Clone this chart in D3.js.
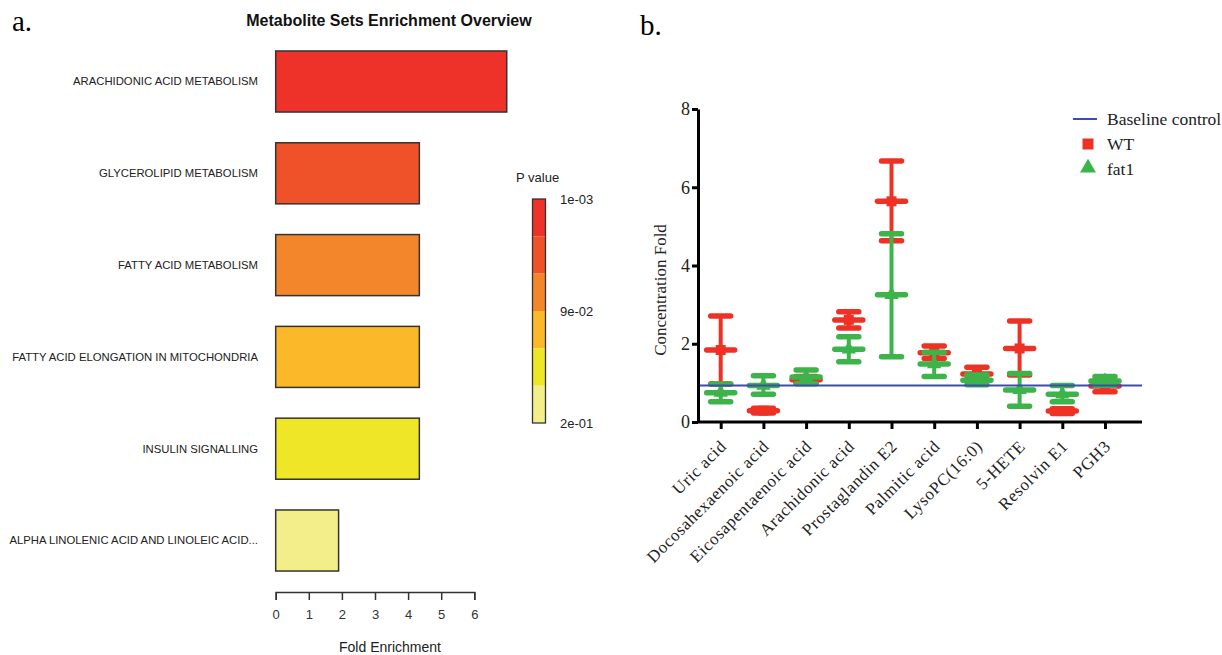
<!DOCTYPE html>
<html>
<head>
<meta charset="utf-8">
<script src="https://cdn.jsdelivr.net/npm/d3@7"></script>
<style>
    body { margin: 0; background: #fff; }
    svg { display: block; }
</style>
</head>
<body>
<svg></svg>
<script>
const width = 1222;
const height = 655;

// panel a: metabolite set enrichment
const setNames = [
    "ARACHIDONIC ACID METABOLISM",
    "GLYCEROLIPID METABOLISM",
    "FATTY ACID METABOLISM",
    "FATTY ACID ELONGATION IN MITOCHONDRIA",
    "INSULIN SIGNALLING",
    "ALPHA LINOLENIC ACID AND LINOLEIC ACID..."
];
const foldEnrichment = [6.98, 4.34, 4.34, 4.34, 4.34, 1.90];
const pValues = [0.001, 0.045, 0.075, 0.105, 0.135, 0.18];
const pColors = ["#ee3129", "#ef5229", "#f3862b", "#fbb829", "#eee626", "#f3ee89"];
const pTickValues = [0.001, 0.0905, 0.18];
const pTickLabels = ["1e-03", "9e-02", "2e-01"];
const foldTicks = [0, 1, 2, 3, 4, 5, 6];

// panel b: concentration fold, mean with error range
const metabolites = ["Uric acid", "Docosahexaenoic acid", "Eicosapentaenoic acid", "Arachidonic acid",
    "Prostaglandin E2", "Palmitic acid", "LysoPC(16:0)", "5-HETE", "Resolvin E1", "PGH3"];
const wtMean = [1.84, 0.29, 1.08, 2.61, 5.64, 1.77, 1.23, 1.88, 0.28, 0.92];
const wtLow = [0.97, 0.23, 1.00, 2.40, 4.63, 1.62, 1.09, 1.20, 0.22, 0.77];
const wtHigh = [2.71, 0.35, 1.16, 2.82, 6.67, 1.94, 1.40, 2.58, 0.34, 1.05];
const fat1Mean = [0.75, 0.93, 1.15, 1.86, 3.25, 1.48, 1.07, 0.82, 0.71, 1.05];
const fat1Low = [0.52, 0.71, 0.98, 1.54, 1.67, 1.16, 0.95, 0.40, 0.52, 0.94];
const fat1High = [0.97, 1.18, 1.33, 2.18, 4.81, 1.78, 1.20, 1.24, 0.93, 1.16];
const baselineValue = 0.93;
const concTicks = [0, 2, 4, 6, 8];

const sans = "'Liberation Sans', Arial, sans-serif";
const serif = "'Liberation Serif', 'Times New Roman', serif";

let svg = d3.select("svg").attr("width", width).attr("height", height);
svg.append("rect").attr("width", width).attr("height", height).attr("fill", "#fff");

// ---------- panel a ----------
function drawPanelA() {
    let g = svg.append("g");
    g.append("text").attr("x", 12).attr("y", 31).text("a.")
        .style("font-family", serif).style("font-size", "29px");
    g.append("text").attr("x", 389).attr("y", 26).attr("text-anchor", "middle")
        .text("Metabolite Sets Enrichment Overview")
        .style("font-family", sans).style("font-size", "16px").style("font-weight", "bold").attr("fill", "#111");

    let scX = d3.scaleLinear().domain([0, 6]).range([275.7, 474.3]);
    let scY = d3.scaleBand().domain(setNames).range([35.6, 586.4])
        .paddingInner(0.335).paddingOuter(0.1675);
    let colorScale = d3.scaleQuantize().domain([0.001, 0.18]).range(pColors);

    let rows = setNames.map((name, i) => ({ name: name, fold: foldEnrichment[i], p: pValues[i] }));

    g.selectAll(".bar")
        .data(rows)
        .enter()
        .append("rect")
        .attr("class", "bar")
        .attr("x", scX(0))
        .attr("y", d => scY(d.name))
        .attr("width", d => scX(d.fold) - scX(0))
        .attr("height", scY.bandwidth())
        .attr("fill", d => colorScale(d.p))
        .attr("stroke", "#333")
        .attr("stroke-width", 1.5);

    g.selectAll(".setLabel")
        .data(rows)
        .enter()
        .append("text")
        .attr("class", "setLabel")
        .attr("x", 258)
        .attr("y", d => scY(d.name) + scY.bandwidth() / 2)
        .attr("dy", "0.35em")
        .attr("text-anchor", "end")
        .text(d => d.name)
        .style("font-family", sans).style("font-size", "11.3px").attr("fill", "#222");

    let axisX = d3.axisBottom(scX).tickValues(foldTicks).tickSize(8).tickSizeOuter(8).tickPadding(10)
        .tickFormat(d3.format("d"));
    let ax = g.append("g").attr("transform", "translate(0, 592)").call(axisX);
    ax.selectAll("path, line").attr("stroke", "#333").attr("stroke-width", 1.5);
    ax.selectAll("text").style("font-family", sans).style("font-size", "13px").attr("fill", "#333");

    g.append("text").attr("x", 390).attr("y", 652).attr("text-anchor", "middle")
        .text("Fold Enrichment")
        .style("font-family", sans).style("font-size", "14px").attr("fill", "#222");

    // P value colour bar
    let scP = d3.scaleLinear().domain([0.001, 0.18]).range([199, 423]);
    let bounds = [0.001].concat(colorScale.thresholds(), [0.18]);
    let segs = pColors.map((c, i) => ({ c: c, a: bounds[i], b: bounds[i + 1] }));
    g.selectAll(".seg")
        .data(segs)
        .enter()
        .append("rect")
        .attr("class", "seg")
        .attr("x", 532.5)
        .attr("y", d => scP(d.a))
        .attr("width", 13)
        .attr("height", d => scP(d.b) - scP(d.a))
        .attr("fill", d => d.c);
    g.append("rect").attr("x", 532.5).attr("y", scP(0.001)).attr("width", 13)
        .attr("height", scP(0.18) - scP(0.001))
        .attr("fill", "none").attr("stroke", "#333").attr("stroke-width", 1.3);
    g.selectAll(".pTick")
        .data(pTickValues)
        .enter()
        .append("text")
        .attr("class", "pTick")
        .attr("x", 560)
        .attr("y", d => scP(d))
        .attr("dy", "0.35em")
        .text((d, i) => pTickLabels[i])
        .style("font-family", sans).style("font-size", "13px").attr("fill", "#222");
    g.append("text").attr("x", 516).attr("y", 182).text("P value")
        .style("font-family", sans).style("font-size", "13px").attr("fill", "#222");
}

// ---------- panel b ----------
function drawSeries(g, rows, scX, scY, color, symbolType, symbolSize) {
    let grp = g.append("g");
    grp.selectAll(".err")
        .data(rows)
        .enter()
        .append("line")
        .attr("x1", d => scX(d.name)).attr("x2", d => scX(d.name))
        .attr("y1", d => scY(d.low)).attr("y2", d => scY(d.high))
        .attr("stroke", color).attr("stroke-width", 4);
    ["low", "high"].forEach(key => {
        grp.selectAll(".cap-" + key)
            .data(rows)
            .enter()
            .append("line")
            .attr("x1", d => scX(d.name) - 10).attr("x2", d => scX(d.name) + 10)
            .attr("y1", d => scY(d[key])).attr("y2", d => scY(d[key]))
            .attr("stroke", color).attr("stroke-width", 5.5).attr("stroke-linecap", "round");
    });
    grp.selectAll(".mean")
        .data(rows)
        .enter()
        .append("line")
        .attr("x1", d => scX(d.name) - 14).attr("x2", d => scX(d.name) + 14)
        .attr("y1", d => scY(d.mean)).attr("y2", d => scY(d.mean))
        .attr("stroke", color).attr("stroke-width", 5.5).attr("stroke-linecap", "round");
    grp.selectAll(".mark")
        .data(rows)
        .enter()
        .append("path")
        .attr("d", d3.symbol(symbolType, symbolSize))
        .attr("transform", d => `translate(${scX(d.name)}, ${scY(d.mean)})`)
        .attr("fill", color);
}

function drawPanelB() {
    let g = svg.append("g");
    g.append("text").attr("x", 640).attr("y", 35).text("b.")
        .style("font-family", serif).style("font-size", "29px");

    let scX = d3.scalePoint().domain(metabolites).range([720.7, 1105]);
    let scY = d3.scaleLinear().domain([0, 8]).range([422, 109]);

    let wtRows = metabolites.map((m, i) => ({ name: m, mean: wtMean[i], low: wtLow[i], high: wtHigh[i] }));
    let fatRows = metabolites.map((m, i) => ({ name: m, mean: fat1Mean[i], low: fat1Low[i], high: fat1High[i] }));

    drawSeries(g, wtRows, scX, scY, "#ee3124", d3.symbolSquare, 100);
    drawSeries(g, fatRows, scX, scY, "#3cb44a", d3.symbolTriangle, 90);

    g.append("line")
        .attr("x1", 698).attr("x2", 1142)
        .attr("y1", scY(baselineValue)).attr("y2", scY(baselineValue))
        .attr("stroke", "#3b4cab").attr("stroke-width", 2);

    let axisY = d3.axisLeft(scY).tickValues(concTicks).tickSize(6).tickSizeOuter(0).tickPadding(2)
        .tickFormat(d3.format("d"));
    let ay = g.append("g").attr("transform", "translate(698, 0)").call(axisY);
    ay.selectAll("path, line").attr("stroke", "#000").attr("stroke-width", 3);
    ay.selectAll("text").style("font-family", serif).style("font-size", "18px").attr("fill", "#222");

    let axisX = d3.axisBottom(scX).tickSize(7).tickSizeOuter(0).tickFormat("");
    let axb = g.append("g").attr("transform", "translate(0, 422)").call(axisX);
    axb.select(".domain").attr("d", "M698,0H1142");
    axb.selectAll("path, line").attr("stroke", "#000").attr("stroke-width", 3);

    g.selectAll(".xLabel")
        .data(metabolites)
        .enter()
        .append("text")
        .attr("class", "xLabel")
        .attr("transform", d => `translate(${scX(d)}, 436) rotate(-45)`)
        .attr("text-anchor", "end")
        .attr("dx", "-0.2em")
        .attr("dy", "0.75em")
        .text(d => d)
        .style("font-family", serif).style("font-size", "17px").style("letter-spacing", "0.6px")
        .attr("fill", "#222");

    g.append("text")
        .attr("transform", `translate(666, 290) rotate(-90)`)
        .attr("text-anchor", "middle")
        .text("Concentration Fold")
        .style("font-family", serif).style("font-size", "17px").attr("fill", "#222");

    // legend
    let lg = g.append("g");
    lg.append("line").attr("x1", 1073).attr("x2", 1097).attr("y1", 119).attr("y2", 119)
        .attr("stroke", "#3b4cab").attr("stroke-width", 2);
    lg.append("path").attr("d", d3.symbol(d3.symbolSquare, 121))
        .attr("transform", "translate(1088, 144)").attr("fill", "#ee3124");
    lg.append("path").attr("d", d3.symbol(d3.symbolTriangle, 110))
        .attr("transform", "translate(1088, 168)").attr("fill", "#3cb44a");
    const legendLabels = ["Baseline control", "WT", "fat1"];
    lg.selectAll(".legText")
        .data(legendLabels)
        .enter()
        .append("text")
        .attr("x", 1107)
        .attr("y", (d, i) => 125 + i * 25)
        .text(d => d)
        .style("font-family", serif).style("font-size", "17.5px").attr("fill", "#222");
}

drawPanelA();
drawPanelB();
</script>
</body>
</html>
